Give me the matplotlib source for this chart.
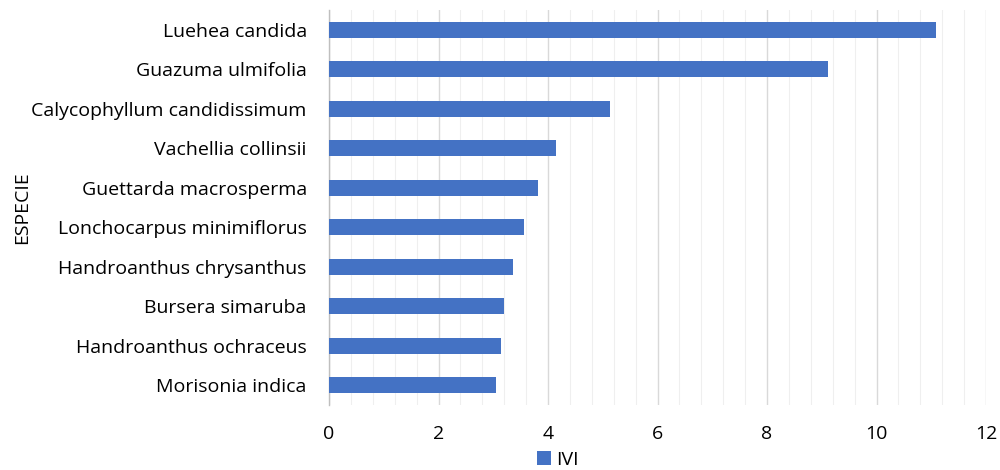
import matplotlib
matplotlib.use("Agg")
import matplotlib.pyplot as plt
from matplotlib.ticker import MultipleLocator

especies = [
    "Luehea candida",
    "Guazuma ulmifolia",
    "Calycophyllum candidissimum",
    "Vachellia collinsii",
    "Guettarda macrosperma",
    "Lonchocarpus minimiflorus",
    "Handroanthus chrysanthus",
    "Bursera simaruba",
    "Handroanthus ochraceus",
    "Morisonia indica",
]
ivi = [11.08, 9.12, 5.14, 4.14, 3.81, 3.56, 3.36, 3.20, 3.15, 3.05]
x_ticks = [0, 2, 4, 6, 8, 10, 12]

plt.rcParams["font.family"] = ["Open Sans", "DejaVu Sans"]

fig = plt.figure(figsize=(10, 4.7), dpi=100)
ax = fig.add_axes([0.329, 0.138, 0.657, 0.841])

pos = list(range(len(especies)))[::-1]
ax.barh(pos, ivi, height=0.41, color="#4472C4", label="IVI", zorder=3)

ax.set_xlim(0, 12)
ax.set_ylim(-0.5, len(especies) - 0.5)
ax.set_xticks(x_ticks)
ax.set_xticklabels([str(t) for t in x_ticks], fontsize=14)
ax.xaxis.set_minor_locator(MultipleLocator(0.4))
ax.set_yticks(pos)
ax.set_yticklabels(especies, fontsize=14)

ax.grid(axis="x", which="major", color="#d9d9d9", linewidth=1.0, zorder=0)
ax.grid(axis="x", which="minor", color="#efefef", linewidth=0.8, zorder=0)
ax.tick_params(axis="both", which="both", length=0)
ax.tick_params(axis="x", pad=14)
ax.tick_params(axis="y", pad=16)

for side in ["top", "right", "bottom"]:
    ax.spines[side].set_visible(False)
ax.spines["left"].set_color("#bfbfbf")
ax.spines["left"].set_linewidth(1.0)

ax.set_ylabel("ESPECIE", fontsize=14, labelpad=0)

fig.legend(loc="center", bbox_to_anchor=(0.558, 0.022), frameon=False,
           fontsize=14, handlelength=0.7, handleheight=0.7, handletextpad=0.3)

fig.savefig("out.png", dpi=100)
